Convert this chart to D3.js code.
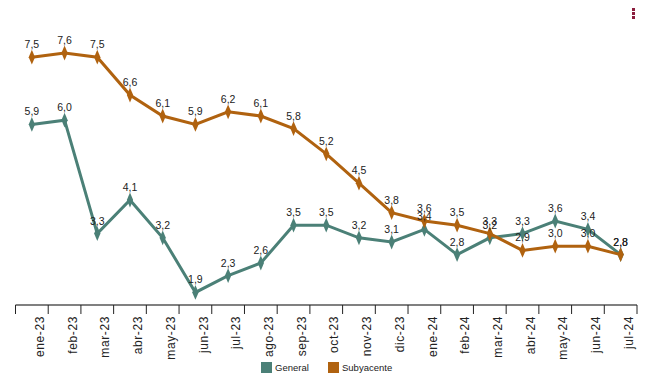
<!DOCTYPE html>
<html>
<head>
<meta charset="utf-8">
<script src="https://cdn.jsdelivr.net/npm/d3@7"></script>
<style>
  body { margin: 0; background: #fff; }
  svg { display: block; font-family: Arial, "Liberation Sans", sans-serif; }
</style>
</head>
<body>
<div class="chart"></div>
<script>
var width = 653,
    height = 388;

var months = ['ene-23','feb-23','mar-23','abr-23','may-23','jun-23','jul-23','ago-23','sep-23','oct-23','nov-23','dic-23',
              'ene-24','feb-24','mar-24','abr-24','may-24','jun-24','jul-24'];
var general = [5.9, 6.0, 3.3, 4.1, 3.2, 1.9, 2.3, 2.6, 3.5, 3.5, 3.2, 3.1, 3.4, 2.8, 3.2, 3.3, 3.6, 3.4, 2.8];
var subyacente = [7.5, 7.6, 7.5, 6.6, 6.1, 5.9, 6.2, 6.1, 5.8, 5.2, 4.5, 3.8, 3.6, 3.5, 3.3, 2.9, 3.0, 3.0, 2.8];
var seriesNames = ['General', 'Subyacente'];
var colors = ['#4b8077', '#b0620f'];

var es = d3.formatLocale({decimal: ',', thousands: '.', grouping: [3], currency: ['', '€']});
var fmt = es.format('.1f');

var svg = d3.select('.chart')
    .append('svg')
    .attr('width', width)
    .attr('height', height);

var x = d3.scaleBand()
    .domain(months)
    .range([15.5, 637]);

var y = d3.scaleLinear()
    .domain([1.6, 8.6])
    .range([305, 11]);

// x axis
var axis = svg.append('g')
    .attr('transform', 'translate(0,305)');
axis.append('line')
    .attr('x1', x.range()[0]).attr('x2', x.range()[1])
    .attr('stroke', '#808080').attr('stroke-width', 2);
var ticks = months.map(function(m) { return x(m); }).concat([x.range()[1]]);
axis.selectAll('.tick')
    .data(ticks)
    .enter()
    .append('line')
    .attr('x1', d => d).attr('x2', d => d)
    .attr('y1', 0).attr('y2', 9)
    .attr('stroke', '#222').attr('stroke-width', 1);
axis.selectAll('.lbl')
    .data(months)
    .enter()
    .append('text')
    .attr('transform', d => 'translate(' + (x(d) + x.bandwidth() / 2 + 8) + ',11) rotate(-90)')
    .attr('text-anchor', 'end')
    .attr('dy', '0.35em')
    .attr('font-size', '12px')
    .attr('letter-spacing', '0.6px')
    .attr('fill', '#222')
    .text(d => d);

var line = d3.line()
    .x((d, i) => x(months[i]) + x.bandwidth() / 2)
    .y(d => y(d));

var diamond = d3.symbol().type(d3.symbolDiamond).size(48);

[general, subyacente].forEach(function(values, s) {
    var g = svg.append('g');
    g.append('path')
        .datum(values)
        .attr('d', line)
        .attr('fill', 'none')
        .attr('stroke', colors[s])
        .attr('stroke-width', 3);
    g.selectAll('.pt')
        .data(values)
        .enter()
        .append('path')
        .attr('transform', (d, i) => 'translate(' + (x(months[i]) + x.bandwidth() / 2) + ',' + y(d) + ') scale(0.85,1.15)')
        .attr('d', diamond)
        .attr('fill', colors[s]);
});

[general, subyacente].forEach(function(values) {
    svg.append('g').selectAll('text')
        .data(values)
        .enter()
        .append('text')
        .attr('x', (d, i) => x(months[i]) + x.bandwidth() / 2)
        .attr('y', d => y(d) - 9)
        .attr('text-anchor', 'middle')
        .attr('font-size', '10.5px')
        .attr('fill', '#222')
        .text(d => fmt(d));
});

// legend
var legend = svg.append('g')
    .attr('transform', 'translate(261,362)');
var item = legend.selectAll('g')
    .data(seriesNames)
    .enter()
    .append('g')
    .attr('transform', (d, i) => 'translate(' + (i * 67) + ',0)');
item.append('rect')
    .attr('width', 11).attr('height', 11)
    .attr('fill', (d, i) => colors[i]);
item.append('text')
    .attr('x', 14).attr('y', 9)
    .attr('font-size', '9.5px')
    .attr('fill', '#222')
    .text(d => d);

// menu icon
svg.append('g').selectAll('rect')
    .data([0, 1, 2])
    .enter()
    .append('rect')
    .attr('x', 632).attr('y', d => 8 + d * 4)
    .attr('width', 3).attr('height', 3)
    .attr('fill', '#8b1d3d');
</script>
</body>
</html>
